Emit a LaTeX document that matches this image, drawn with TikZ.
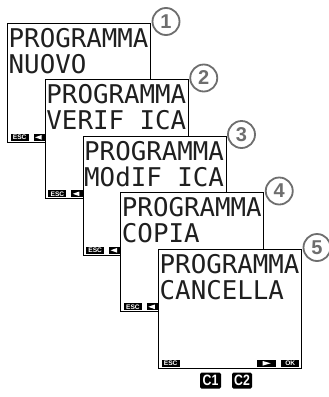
\documentclass[tikz,border=0pt]{standalone}
\usepackage{fontspec}
\newfontfamily\lcdfont{DejaVu Sans Mono}
\newfontfamily\labfont{Liberation Sans}
\definecolor{ringgray}{HTML}{6E6E6E}
\begin{document}
\begin{tikzpicture}[x=1pt,y=-1pt,
  screen/.style={draw=black, line width=0.9pt, fill=white, minimum width=143pt, minimum height=119pt, inner sep=0pt, outer sep=0pt, anchor=north west},
  lcd/.style={font=\lcdfont\fontsize{25.8}{26}\selectfont, text=black!88, inner sep=0pt, anchor=base west},
  keybox/.style={fill=black, text=white, font=\labfont\bfseries\fontsize{6.6}{6.6}\selectfont, inner sep=0pt, minimum height=7pt, anchor=south west},
  numring/.style={circle, draw=ringgray, line width=1.8pt, fill=white, minimum size=27pt, inner sep=0pt, text=ringgray, font=\labfont\bfseries\fontsize{20}{20}\selectfont},
  cbox/.style={fill=black, rounded corners=1.5pt, minimum width=21pt, minimum height=16pt, inner sep=0pt, text=white, font=\labfont\bfseries\fontsize{15}{15}\selectfont}
]
\useasboundingbox (0,0) rectangle (329,397);
\foreach \i/\la/\lb in {1/PROGRAMMA/NUOVO, 2/PROGRAMMA/VERIF ICA, 3/PROGRAMMA/MOdIF ICA, 4/PROGRAMMA/COPIA, 5/PROGRAMMA/CANCELLA}{
  \pgfmathsetmacro{\L}{7.5+37.75*(\i-1)}
  \pgfmathsetmacro{\T}{23+56.5*(\i-1)}
  \node[screen] (s\i) at (\L,\T) {};
  \node[lcd] (a\i) at ([xshift=1pt,yshift=-24pt]s\i.north west) {\la};
  \node[lcd] (b\i) at ([xshift=1pt,yshift=-50pt]s\i.north west) {\lb};
  \node[numring] (n\i) at ([xshift=15.5pt,yshift=1.5pt]s\i.north east) {\i};
  \node[keybox, minimum width=18pt] (e\i) at ([xshift=3pt,yshift=1pt]s\i.south west) {ESC};
  \ifnum\i<5
    \node[keybox, minimum width=19pt] (l\i) at ([xshift=26pt,yshift=1pt]s\i.south west) {};
    \fill[white] ([xshift=1.5pt]l\i.west) -- ([xshift=8pt,yshift=2.3pt]l\i.west) -- ([xshift=8pt,yshift=-2.3pt]l\i.west) -- cycle;
  \else
    \node[keybox, minimum width=19pt] (p\i) at ([xshift=98.5pt,yshift=1pt]s\i.south west) {};
    \fill[white] ([xshift=4pt]p\i.center) -- ([xshift=-4pt,yshift=2.3pt]p\i.center) -- ([xshift=-4pt,yshift=-2.3pt]p\i.center) -- cycle;
    \node[keybox, minimum width=18pt] (k\i) at ([xshift=122.5pt,yshift=1pt]s\i.south west) {OK};
  \fi
}
\node[cbox] (c1) at (210.5,380.5) {\scalebox{0.82}[1]{C1}};
\node[cbox, minimum width=20pt] (c2) at (242,380.5) {\scalebox{0.82}[1]{C2}};
\end{tikzpicture}
\end{document}
